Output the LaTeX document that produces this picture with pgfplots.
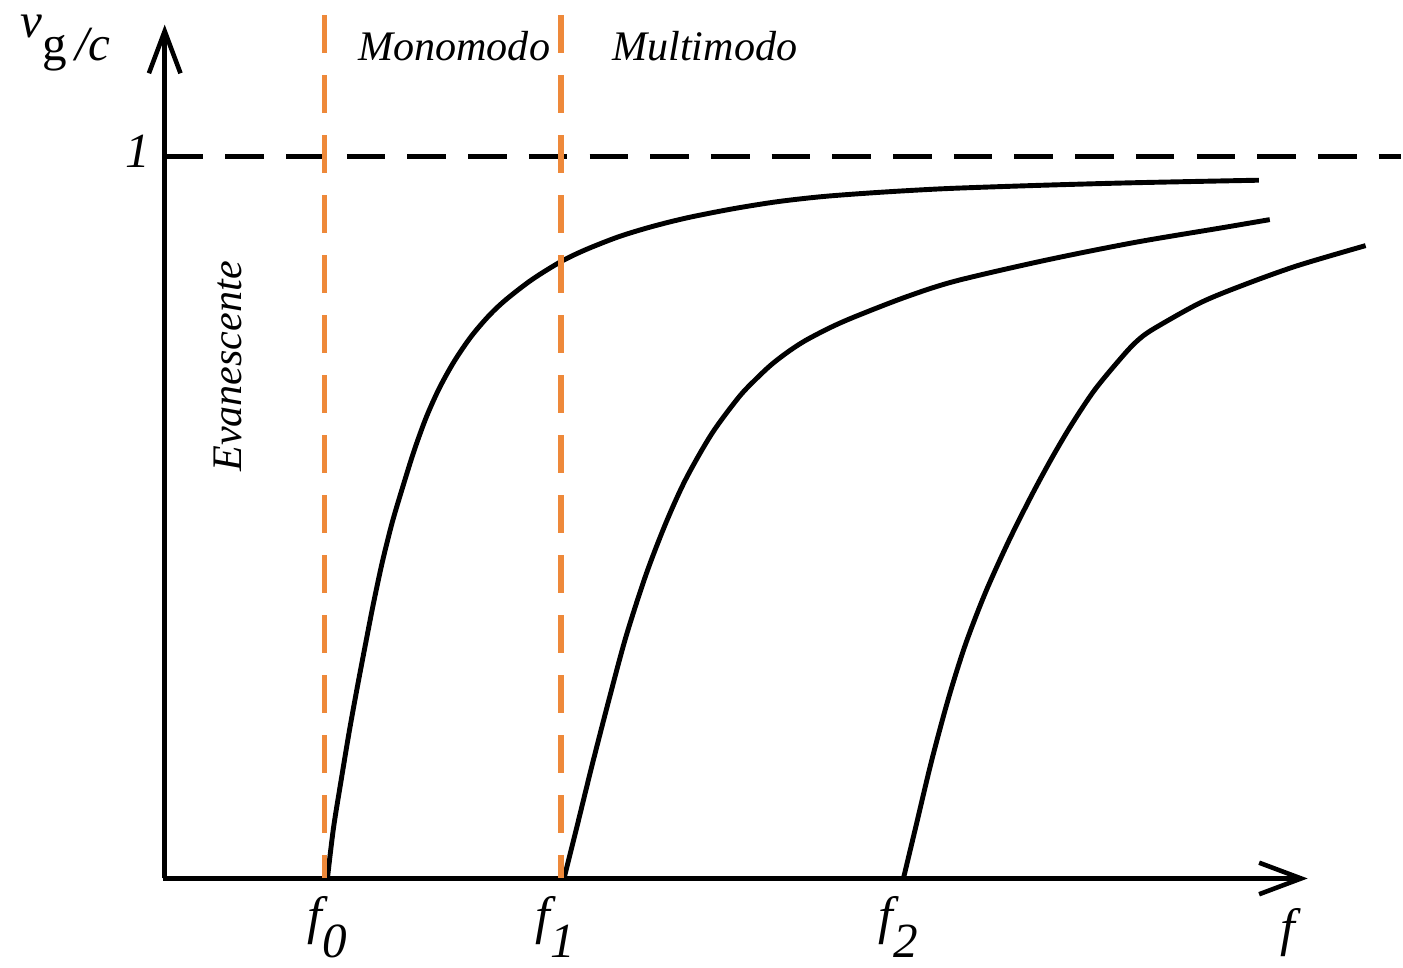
\documentclass[border=0pt]{standalone}
\usepackage{fontspec}
\setmainfont{Liberation Serif}
\usepackage{pgfplots}
\pgfplotsset{compat=1.18}
\usetikzlibrary{arrows.meta}
\definecolor{cutoff}{RGB}{238,137,58}

% group velocity v_g/c of the first three guided modes
\pgfplotstableread{
x     y
1.63  0.0000
1.69  0.0692
1.77  0.1383
1.85  0.2047
1.93  0.2656
2.01  0.3237
2.09  0.3804
2.18  0.4385
2.28  0.4938
2.39  0.5450
2.50  0.5934
2.62  0.6390
2.75  0.6791
2.90  0.7165
3.07  0.7510
3.25  0.7801
3.42  0.8022
3.68  0.8299
3.97  0.8548
4.22  0.8714
4.55  0.8893
4.88  0.9032
5.24  0.9156
5.70  0.9281
6.14  0.9378
6.58  0.9447
7.03  0.9495
7.47  0.9533
7.92  0.9564
8.81  0.9606
9.71  0.9640
10.96 0.9675
}\modezero
\pgfplotstableread{
x     y
4.00  0.0000
4.12  0.0664
4.28  0.1563
4.45  0.2476
4.62  0.3347
4.82  0.4205
5.02  0.4924
5.22  0.5533
5.48  0.6162
5.75  0.6667
5.92  0.6916
6.08  0.7123
6.25  0.7303
6.42  0.7455
6.67  0.7635
6.92  0.7787
7.42  0.8055
7.92  0.8277
8.81  0.8562
9.71  0.8811
10.60 0.9018
11.07 0.9129
}\modeone
\pgfplotstableread{
x     y
7.40  0.0000
7.52  0.0692
7.68  0.1618
7.85  0.2490
8.02  0.3237
8.22  0.3956
8.45  0.4661
8.68  0.5297
8.88  0.5809
9.08  0.6279
9.32  0.6777
9.62  0.7275
9.77  0.7483
9.93  0.7635
10.38 0.7981
10.82 0.8230
11.35 0.8492
12.03 0.8769
}\modetwo

\begin{document}
\begin{tikzpicture}
\begin{axis}[
  scale only axis, width=14.03cm, height=9.69cm,
  xmin=-1.65, xmax=12.38, ymin=-0.1231, ymax=1.2172,
  hide axis, clip=false,
]
\path (rel axis cs:0,0) rectangle (rel axis cs:1,1);

% axes
\draw[line width=1.3pt, -{Straight Barb[length=12pt,width=9pt,line width=1.3pt]}]
  (axis cs:-0.02,0) -- (axis cs:11.45,0);
\draw[line width=1.3pt, -{Straight Barb[length=12pt,width=9pt,line width=1.3pt]}]
  (axis cs:0,0) -- (axis cs:0,1.183);

% speed of light limit
\addplot[black, line width=1.4pt, dash pattern=on 11pt off 6.3pt]
  coordinates {(0,1) (12.38,1)};

% modes
\addplot[black, line width=1.4pt, smooth, tension=0.5] table[x=x,y=y] {\modezero};
\addplot[black, line width=1.4pt, smooth, tension=0.5] table[x=x,y=y] {\modeone};
\addplot[black, line width=1.4pt, smooth, tension=0.5] table[x=x,y=y] {\modetwo};

% cut-off frequencies
\addplot[cutoff, line width=1.5pt, dash pattern=on 10.8pt off 6.3pt]
  coordinates {(1.60,1.196) (1.60,0)};
\addplot[cutoff, line width=1.5pt, dash pattern=on 10.8pt off 6.3pt]
  coordinates {(3.97,1.196) (3.97,0)};

% labels
\node[anchor=base west, inner sep=0pt] at (axis cs:-1.45,1.165)
  {\fontsize{14}{14}\selectfont\itshape v\raisebox{-1ex}{\upshape g\,}\raisebox{-1ex}{/c}};
\node[inner sep=0pt] at (axis cs:-0.27,1.007) {\fontsize{14}{14}\selectfont\itshape 1};
\node[anchor=base, inner sep=0pt] at (axis cs:2.90,1.134) {\fontsize{12}{12}\selectfont\itshape Monomodo};
\node[anchor=base, inner sep=0pt] at (axis cs:5.41,1.134) {\fontsize{12}{12}\selectfont\itshape Multimodo};
\node[rotate=90, inner sep=0pt] at (axis cs:0.63,0.7095) {\fontsize{12}{12}\selectfont\itshape Evanescente};

\node[anchor=base, inner sep=0pt] at (axis cs:1.63,-0.076)
  {\fontsize{15}{15}\selectfont\itshape f\raisebox{-7pt}{\fontsize{14}{14}\selectfont 0}};
\node[anchor=base, inner sep=0pt] at (axis cs:3.91,-0.076)
  {\fontsize{15}{15}\selectfont\itshape f\raisebox{-7pt}{\fontsize{14}{14}\selectfont 1}};
\node[anchor=base, inner sep=0pt] at (axis cs:7.35,-0.076)
  {\fontsize{15}{15}\selectfont\itshape f\raisebox{-7pt}{\fontsize{14}{14}\selectfont 2}};
\node[anchor=base, inner sep=0pt] at (axis cs:11.25,-0.093)
  {\fontsize{15}{15}\selectfont\itshape f};
\end{axis}
\end{tikzpicture}
\end{document}
